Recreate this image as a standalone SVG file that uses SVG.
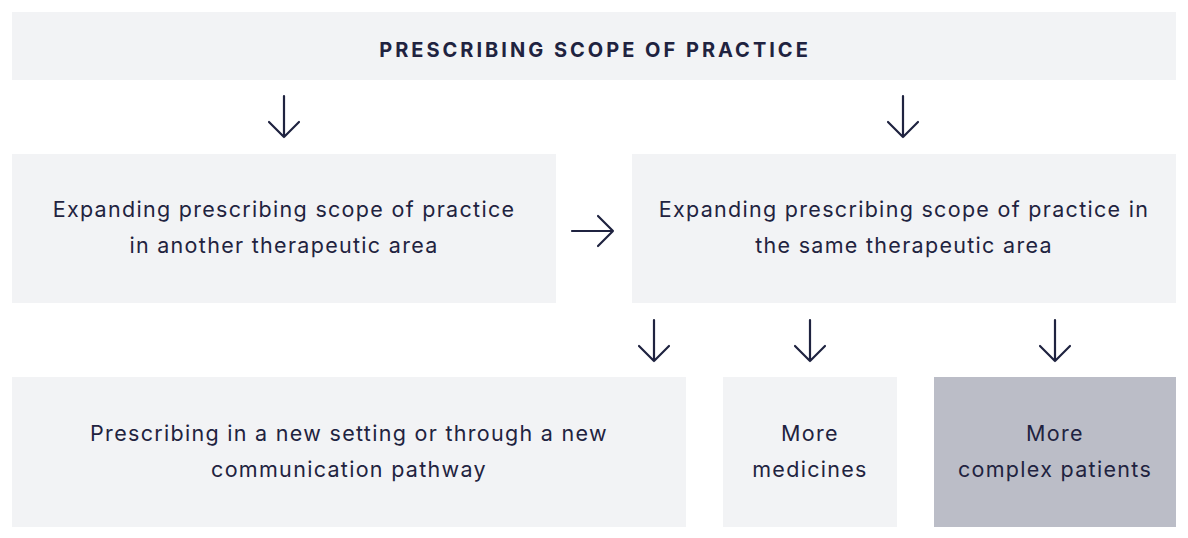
<svg xmlns="http://www.w3.org/2000/svg" width="1188" height="538" viewBox="0 0 1188 538">
<style>
.box{fill:#f2f3f5}
.dark{fill:#bbbdc7}
.t{font-family:Inter,"Open Sans","Noto Sans",sans-serif;font-size:21.5px;fill:#1f2340;text-anchor:middle;letter-spacing:1.3px}
.title{font-family:Inter,"Open Sans","Noto Sans",sans-serif;font-size:20px;font-weight:700;fill:#1f2340;text-anchor:middle;letter-spacing:3px}
.arr{fill:none;stroke:#1f2340;stroke-width:2.2;stroke-linecap:round;stroke-linejoin:round}
</style>
<rect width="1188" height="538" fill="#ffffff"/>
<g id="top">
<rect class="box" x="12" y="12" width="1164" height="68"/>
<text class="title" x="595" y="57">PRESCRIBING SCOPE OF PRACTICE</text>
</g>
<g id="another">
<rect class="box" x="12" y="154" width="544" height="149"/>
<text class="t" x="284" y="217">Expanding prescribing scope of practice</text>
<text class="t" x="284" y="253">in another therapeutic area</text>
</g>
<g id="same">
<rect class="box" x="632" y="154" width="544" height="149"/>
<text class="t" x="904" y="217">Expanding prescribing scope of practice in</text>
<text class="t" x="904" y="253">the same therapeutic area</text>
</g>
<g id="setting">
<rect class="box" x="12" y="377" width="674" height="150"/>
<text class="t" x="349" y="441">Prescribing in a new setting or through a new</text>
<text class="t" x="349" y="477">communication pathway</text>
</g>
<g id="medicines">
<rect class="box" x="723" y="377" width="174" height="150"/>
<text class="t" x="810" y="441">More</text>
<text class="t" x="810" y="477">medicines</text>
</g>
<g id="patients">
<rect class="dark" x="934" y="377" width="242" height="150"/>
<text class="t" x="1055" y="441">More</text>
<text class="t" x="1055" y="477">complex patients</text>
</g>
<g id="connectors">
<path class="arr" d="M284 96V137M269 122L284 137L299 122"/>
<path class="arr" d="M903 96V137M888 122L903 137L918 122"/>
<path class="arr" d="M572 231H613M598 216L613 231L598 246"/>
<path class="arr" d="M654 320V361M639 346L654 361L669 346"/>
<path class="arr" d="M810 320V361M795 346L810 361L825 346"/>
<path class="arr" d="M1055 320V361M1040 346L1055 361L1070 346"/>
</g>
</svg>
